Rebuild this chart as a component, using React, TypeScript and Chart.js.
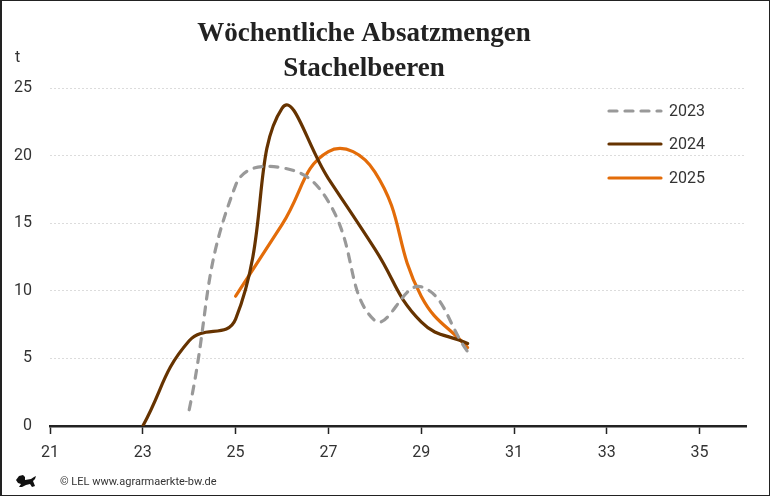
import React, { useEffect, useRef } from "react";
import { Chart, registerables } from "chart.js";

Chart.register(...registerables);

const TITLE_LINES = ["Wöchentliche Absatzmengen", "Stachelbeeren"];
const UNIT = "t";
const FOOTER = "© LEL www.agrarmaerkte-bw.de";

const WEEKS = [23, 24, 25, 26, 27, 28, 29, 30];
const S2023: (number | null)[] = [null, 1.2, 17.8, 19.1, 16.6, 7.8, 10.3, 5.5];
const S2024: (number | null)[] = [0, 6.3, 7.9, 23.5, 18.3, 13.1, 7.7, 6.1];
const S2025: (number | null)[] = [null, null, 9.6, 14.9, 20.3, 18.8, 9.6, 5.8];

const X_TICKS = [21, 23, 25, 27, 29, 31, 33, 35];
const X_MIN = 21;
const X_MAX = 36;
const Y_MIN = 0;
const Y_MAX = 25;
const Y_STEP = 5;

const SERIES = [
  { label: "2023", values: S2023, color: "#999999", dash: [8, 8] },
  { label: "2024", values: S2024, color: "#663300", dash: [] as number[] },
  { label: "2025", values: S2025, color: "#E36C09", dash: [] as number[] },
];

const toPoints = (vals: (number | null)[]) =>
  WEEKS.map((w, i) => ({ x: w, y: vals[i] })).filter((p) => p.y !== null) as {
    x: number;
    y: number;
  }[];

const decorPlugin = {
  id: "decor",
  afterDraw(chart: any) {
    const ctx = chart.ctx as CanvasRenderingContext2D;
    ctx.save();
    // title
    ctx.fillStyle = "#222222";
    ctx.font = 'bold 27px "Liberation Serif"';
    ctx.textAlign = "center";
    ctx.textBaseline = "alphabetic";
    ctx.fillText(TITLE_LINES[0], 364, 41);
    ctx.fillText(TITLE_LINES[1], 364, 76);

    // unit
    ctx.fillStyle = "#333333";
    ctx.font = "16px Roboto";
    ctx.textAlign = "left";
    ctx.fillText(UNIT, 15, 62);

    // legend
    const legendY = [111, 144, 178];
    chart.data.datasets.forEach((ds: any, i: number) => {
      const y = legendY[i];
      ctx.beginPath();
      ctx.strokeStyle = ds.borderColor;
      ctx.lineWidth = ds.borderWidth;
      ctx.lineCap = "round";
      ctx.setLineDash(ds.borderDash || []);
      ctx.moveTo(609, y);
      ctx.lineTo(661, y);
      ctx.stroke();
      ctx.setLineDash([]);
      ctx.fillStyle = "#333333";
      ctx.font = "16px Roboto";
      ctx.textAlign = "left";
      ctx.textBaseline = "middle";
      ctx.fillText(ds.label, 669, y + 1);
    });

    // footer logo (simple lion silhouette)
    ctx.fillStyle = "#111111";
    ctx.beginPath();
    ctx.moveTo(16, 480);
    ctx.lineTo(19, 476);
    ctx.lineTo(23, 475);
    ctx.lineTo(25, 477);
    ctx.lineTo(25, 480);
    ctx.lineTo(31, 479);
    ctx.lineTo(34, 477);
    ctx.lineTo(36, 476);
    ctx.lineTo(35, 479);
    ctx.lineTo(33, 481);
    ctx.lineTo(35, 486);
    ctx.lineTo(32, 487);
    ctx.lineTo(30, 484);
    ctx.lineTo(26, 485);
    ctx.lineTo(22, 487);
    ctx.lineTo(19, 487);
    ctx.lineTo(21, 484);
    ctx.lineTo(18, 483);
    ctx.closePath();
    ctx.fill();

    // footer text
    ctx.fillStyle = "#333333";
    ctx.font = "11px Roboto";
    ctx.textAlign = "left";
    ctx.textBaseline = "middle";
    ctx.fillText(FOOTER, 60, 482);

    // frame
    ctx.strokeStyle = "#222222";
    ctx.lineWidth = 1;
    ctx.strokeRect(0.5, 0.5, 769, 495);
    ctx.fillStyle = "#222222";
    ctx.fillRect(0, 0, 2, 496);
    ctx.restore();
  },
};

export default function App() {
  const ref = useRef<HTMLCanvasElement | null>(null);

  useEffect(() => {
    document.body.style.margin = "0";
    const canvas = ref.current;
    if (!canvas) return;
    const chart = new Chart(canvas, {
      type: "line",
      data: {
        datasets: SERIES.map((s) => ({
          label: s.label,
          data: toPoints(s.values),
          borderColor: s.color,
          backgroundColor: s.color,
          borderWidth: 3.2,
          borderDash: s.dash,
          borderCapStyle: "round",
          borderJoinStyle: "round",
          pointRadius: 0,
          tension: 0.45,
          fill: false,
        })),
      },
      options: {
        animation: false,
        responsive: false,
        devicePixelRatio: 1,
        layout: { padding: { top: 88, right: 24, bottom: 0, left: 0 } },
        plugins: {
          legend: { display: false },
          title: { display: false },
          tooltip: { enabled: false },
        },
        scales: {
          x: {
            type: "linear",
            min: X_MIN,
            max: X_MAX,
            afterBuildTicks: (scale: any) => {
              scale.ticks = X_TICKS.map((v) => ({ value: v }));
            },
            afterFit: (scale: any) => {
              scale.height = 70;
            },
            grid: {
              display: true,
              drawOnChartArea: false,
              drawTicks: true,
              tickLength: 8,
              tickColor: "#222222",
              tickWidth: 1.5,
            },
            border: { display: true, color: "#222222", width: 2.5 },
            ticks: {
              padding: 9,
              color: "#333333",
              font: { family: "Roboto", size: 16 },
              maxRotation: 0,
              autoSkip: false,
            },
          },
          y: {
            type: "linear",
            min: Y_MIN,
            max: Y_MAX,
            afterFit: (scale: any) => {
              scale.width = 50;
            },
            grid: {
              color: "#dcdcdc",
              lineWidth: 1,
              drawTicks: false,
            },
            border: { display: false, dash: [2, 2] },
            ticks: {
              stepSize: Y_STEP,
              padding: 18,
              color: "#333333",
              font: { family: "Roboto", size: 16 },
            },
          },
        },
      },
      plugins: [decorPlugin],
    } as any);
    return () => chart.destroy();
  }, []);

  return (
    <div style={{ width: 770, height: 496, position: "relative", background: "#fff" }}>
      <canvas ref={ref} width={770} height={496} style={{ display: "block" }} />
    </div>
  );
}
